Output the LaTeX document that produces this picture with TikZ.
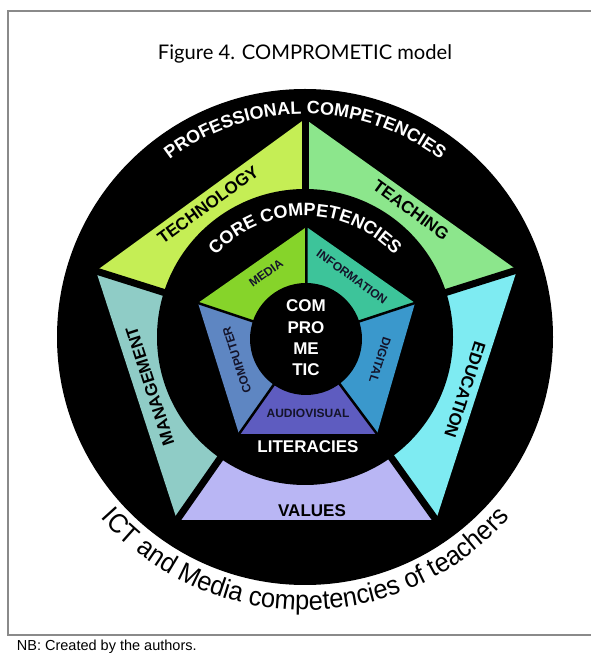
\documentclass[tikz,border=0pt]{standalone}
\usepackage{fontspec}
\usepackage{graphicx}
\setmainfont{Liberation Sans}
\newfontfamily\titlefont{Lato}
\newfontfamily\arcfont[FakeStretch=0.94]{Liberation Sans}
\usetikzlibrary{decorations.text,calc}
\definecolor{cTech}{HTML}{C5EE55}
\definecolor{cTeach}{HTML}{8CE68C}
\definecolor{cEdu}{HTML}{7EEBF2}
\definecolor{cVal}{HTML}{B9B6F4}
\definecolor{cMan}{HTML}{8FCCC6}
\definecolor{cMedia}{HTML}{86D42A}
\definecolor{cInfo}{HTML}{3DC49A}
\definecolor{cDig}{HTML}{3A98CC}
\definecolor{cAudio}{HTML}{5E5CC0}
\definecolor{cComp}{HTML}{5E86C2}
\definecolor{cFrame}{HTML}{8A8A8A}
\definecolor{cLit}{HTML}{14142A}
\newcommand\proffont{\fontsize{18}{18}\selectfont\bfseries}
\newcommand\ictfont{\arcfont\fontsize{27}{27}\selectfont}
\tikzset{
  seglabel/.style={font=\fontsize{17}{17}\selectfont\bfseries, text=black, inner sep=0pt},
  litlabel/.style={font=\fontsize{12}{12}\selectfont\bfseries, text=cLit, inner sep=0pt},
  whitelabel/.style={font=\fontsize{17}{21.3}\selectfont\bfseries, text=white, inner sep=0pt, align=center},
  divider/.style={line width=7pt, black},
  thindiv/.style={line width=2.5pt, black},
  framepen/.style={line width=1.2pt, cFrame},
}
\begin{document}
\begin{tikzpicture}[x=1pt,y=1pt]
\useasboundingbox (0,0) rectangle (591,654);
\fill[white] (0,0) rectangle (591,654);
% frame
\draw[framepen] (591.5,643) -- (8,643) -- (8,19) -- (591.5,19);
% title
\node[anchor=base, inner sep=0pt] (title) at (305,594) {\resizebox{294pt}{!}{\titlefont Figure 4. COMPROMETIC model}};
% centres
\coordinate (C) at (305,317);
\coordinate (K) at (306,315);
\fill[black] (C) circle (248);
% professional pentagon
\coordinate (P1) at (305,535);
\coordinate (P2) at (517,384);
\coordinate (P3) at (436,134);
\coordinate (P4) at (177,134);
\coordinate (P5) at (96,383);
\fill[cTeach] (C) -- (P1) -- (P2) -- cycle;
\fill[cEdu] (C) -- (P2) -- (P3) -- cycle;
\fill[cVal] (C) -- (P3) -- (P4) -- cycle;
\fill[cMan] (C) -- (P4) -- (P5) -- cycle;
\fill[cTech] (C) -- (P5) -- (P1) -- cycle;
\foreach \p in {P1,P2,P3,P4,P5} {\draw[divider] (C) -- ($(C)!1.08!(\p)$);}
\fill[black] (C) circle (148);
% core pentagon
\coordinate (Q1) at (306.5,427);
\coordinate (Q2) at (415,351);
\coordinate (Q3) at (377,220);
\coordinate (Q4) at (239,220);
\coordinate (Q5) at (198,351);
\fill[cInfo] (K) -- (Q1) -- (Q2) -- cycle;
\fill[cDig] (K) -- (Q2) -- (Q3) -- cycle;
\fill[cAudio] (K) -- (Q3) -- (Q4) -- cycle;
\fill[cComp] (K) -- (Q4) -- (Q5) -- cycle;
\fill[cMedia] (K) -- (Q5) -- (Q1) -- cycle;
\foreach \q in {Q1,Q2,Q3,Q4,Q5} {\draw[thindiv] (K) -- ($(K)!1.03!(\q)$);}
\fill[black] (K) circle (56);
% professional labels
\node[seglabel, rotate=36] (tech) at (208,449) {TECHNOLOGY};
\node[seglabel, rotate=-36] (teach) at (411,444) {TEACHING};
\node[seglabel, rotate=-108] (edu) at (465,264) {EDUCATION};
\node[seglabel] (val) at (312,143) {VALUES};
\node[seglabel, rotate=108] (man) at (150,268) {MANAGEMENT};
% literacy labels
\node[litlabel, rotate=36] (media) at (266,381) {MEDIA};
\node[litlabel, rotate=-36] (info) at (352,377) {INFORMATION};
\node[litlabel, rotate=-108] (dig) at (380,294) {DIGITAL};
\node[litlabel] (audio) at (308,241) {AUDIOVISUAL};
\node[litlabel, rotate=108] (comp) at (237,294) {COMPUTER};
% centre text
\node[whitelabel] (cmt) at (306,316) {COM\\PRO\\ME\\TIC};
\node[whitelabel, anchor=base] (lit) at (308,201) {LITERACIES};
% arched texts
\path[decorate, decoration={text along path, text={|\proffont|PROFESSIONAL COMPETENCIES}, text align=center, text color=white}]
  ($(C)+(180:223)$) arc[start angle=180, end angle=0, radius=223];
\path[decorate, decoration={text along path, text={|\proffont|CORE COMPETENCIES}, text align=center, text color=white}]
  ($(C)+(180:121)$) arc[start angle=180, end angle=0, radius=121];
\path[decorate, decoration={text along path, text={|\ictfont|ICT and Media competencies of teachers}, text align=center, text color=black}]
  ($(C)+(180:273)$) arc[start angle=180, end angle=360, radius=273];
% note
\node[anchor=base west, inner sep=0pt, font=\fontsize{14.5}{14.5}\selectfont] (nb) at (16.7,3.3) {NB: Created by the authors.};
\end{tikzpicture}
\end{document}
